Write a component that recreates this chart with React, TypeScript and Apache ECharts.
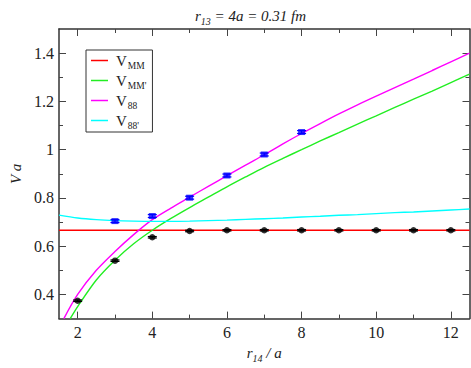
import React, { useEffect, useRef } from "react";
import * as echarts from "echarts";

// ---- data ----
const xMM = [1.5, 12.5];
const yMM = [0.666, 0.666];

const xMMp = [1.8, 2, 2.5, 3, 3.5, 4, 4.5, 5, 5.5, 6, 6.5, 7, 7.5, 8, 8.5, 9, 9.5, 10, 10.5, 11, 11.5, 12, 12.5];
const yMMp = [0.3, 0.35, 0.46, 0.542, 0.61, 0.666, 0.715, 0.76, 0.803, 0.846, 0.887, 0.927, 0.964, 1.0, 1.036, 1.071, 1.106, 1.14, 1.175, 1.209, 1.243, 1.278, 1.313];

const x88 = [1.63, 2, 2.5, 3, 3.5, 4, 4.5, 5, 5.5, 6, 6.5, 7, 7.5, 8, 8.5, 9, 9.5, 10, 10.5, 11, 11.5, 12, 12.5];
const y88 = [0.3, 0.4, 0.5, 0.578, 0.648, 0.71, 0.758, 0.803, 0.848, 0.892, 0.936, 0.979, 1.024, 1.067, 1.108, 1.148, 1.186, 1.222, 1.257, 1.292, 1.328, 1.364, 1.4];

const x88p = [1.5, 2, 2.5, 3, 3.5, 4, 4.5, 5, 5.5, 6, 6.5, 7, 7.5, 8, 8.5, 9, 9.5, 10, 10.5, 11, 11.5, 12, 12.5];
const y88p = [0.729, 0.717, 0.71, 0.706, 0.704, 0.703, 0.703, 0.704, 0.706, 0.708, 0.711, 0.714, 0.717, 0.721, 0.724, 0.728, 0.731, 0.735, 0.739, 0.742, 0.746, 0.75, 0.754];

const xBlack = [2, 3, 4, 5, 6, 7, 8, 9, 10, 11, 12];
const yBlack = [0.374, 0.54, 0.637, 0.663, 0.666, 0.666, 0.666, 0.666, 0.666, 0.666, 0.666];
const eBlack = [0.003, 0.003, 0.003, 0.003, 0.003, 0.003, 0.003, 0.003, 0.003, 0.003, 0.003];

const xBlue = [3, 4, 5, 6, 7, 8];
const yBlue = [0.704, 0.725, 0.801, 0.893, 0.98, 1.073];
const eBlue = [0.006, 0.006, 0.006, 0.006, 0.006, 0.006];

const xMajor = [2, 4, 6, 8, 10, 12];
const xMinor = [3, 5, 7, 9, 11];
const yMajor = [0.4, 0.6, 0.8, 1.0, 1.2, 1.4];
const yMinor = [0.5, 0.7, 0.9, 1.1, 1.3];

const seriesNames = ["VMM", "VMM'", "V88", "V88'"];
const legendSubs: Record<string, string> = { VMM: "MM", "VMM'": "MM'", V88: "88", "V88'": "88'" };
const colors = ["#ff0000", "#22ee22", "#ff00ff", "#00ffff"];

const FONT = "'Liberation Serif', 'Times New Roman', serif";
const X_MIN = 1.5, X_MAX = 12.5, Y_MIN = 0.3, Y_MAX = 1.5;

const zip = (xs: number[], ys: number[]) => xs.map((x, i) => [x, ys[i]]);

function errorBars(xs: number[], ys: number[], es: number[], color: string) {
  return {
    type: "custom",
    data: xs.map((x, i) => [x, ys[i], es[i]]),
    z: 4,
    renderItem: (params: any, api: any) => {
      const x = api.value(0), y = api.value(1), e = api.value(2);
      const lo = api.coord([x, y - e]);
      const hi = api.coord([x, y + e]);
      const w = 4.5;
      const st = { stroke: color, lineWidth: 1.2 };
      return {
        type: "group",
        children: [
          { type: "line", shape: { x1: lo[0], y1: lo[1], x2: hi[0], y2: hi[1] }, style: st },
          { type: "line", shape: { x1: lo[0] - w, y1: lo[1], x2: lo[0] + w, y2: lo[1] }, style: st },
          { type: "line", shape: { x1: hi[0] - w, y1: hi[1], x2: hi[0] + w, y2: hi[1] }, style: st },
        ],
      };
    },
  };
}

const axisLineStyle = { color: "#333", width: 1.5 };
const italic = { fontFamily: FONT, fontStyle: "italic", fontWeight: "normal", fontSize: 15, color: "#222" };
const italicSub = { fontFamily: FONT, fontStyle: "italic", fontWeight: "normal", fontSize: 10, color: "#222", padding: [10, 0, 0, 0] };

function xAxis(position: string, ticks: number[], len: number, labels: boolean, line: boolean, name?: boolean) {
  return {
    type: "value",
    position,
    min: X_MIN,
    max: X_MAX,
    splitLine: { show: false },
    axisLine: { show: line, onZero: false, lineStyle: axisLineStyle },
    axisTick: { show: true, inside: true, length: len, customValues: ticks, lineStyle: { color: "#444", width: 1 } },
    axisLabel: labels
      ? { show: true, customValues: ticks, fontFamily: FONT, fontSize: 16, color: "#222", margin: 6 }
      : { show: false },
    ...(name
      ? {
          name: "{i|r}{s|14}{i| / a}",
          nameLocation: "middle",
          nameGap: 19,
          nameTextStyle: { fontFamily: FONT, rich: { i: italic, s: italicSub } },
        }
      : {}),
  };
}

function yAxis(position: string, ticks: number[], len: number, labels: boolean, line: boolean, name?: boolean) {
  return {
    type: "value",
    position,
    min: Y_MIN,
    max: Y_MAX,
    splitLine: { show: false },
    axisLine: { show: line, onZero: false, lineStyle: axisLineStyle },
    axisTick: { show: true, inside: true, length: len, customValues: ticks, lineStyle: { color: "#444", width: 1 } },
    axisLabel: labels
      ? {
          show: true,
          customValues: ticks,
          fontFamily: FONT,
          fontSize: 16,
          color: "#222",
          margin: 5,
          formatter: (v: number) => String(parseFloat(v.toFixed(2))),
        }
      : { show: false },
    ...(name
      ? {
          name: "V a",
          nameLocation: "middle",
          nameGap: 36,
          nameRotate: 90,
          nameTextStyle: { fontFamily: FONT, fontStyle: "italic", fontSize: 15, color: "#222" },
        }
      : {}),
  };
}

export default function App() {
  const ref = useRef<HTMLDivElement>(null);
  useEffect(() => {
    if (!ref.current) return;
    const chart = echarts.init(ref.current, undefined, { renderer: "svg" });
    const curves = [zip(xMM, yMM), zip(xMMp, yMMp), zip(x88, y88), zip(x88p, y88p)];
    chart.setOption({
      animation: false,
      backgroundColor: "#fff",
      textStyle: { fontFamily: FONT },
      title: {
        text: "{i|r}{s|13}{i| = 4a = 0.31 fm}",
        left: 190,
        top: 1,
        textStyle: { fontFamily: FONT, fontWeight: "normal", rich: { i: italic, s: italicSub } },
      },
      legend: {
        orient: "vertical",
        left: 86,
        top: 50,
        data: seriesNames,
        icon: "rect",
        itemWidth: 17,
        itemHeight: 1.5,
        itemGap: 2,
        padding: [3, 6, 1, 5],
        borderColor: "#333",
        borderWidth: 1,
        backgroundColor: "#fff",
        formatter: (n: string) => `{v|V}{s|${legendSubs[n]}}`,
        textStyle: {
          fontFamily: FONT,
          padding: [0, 0, 0, 3],
          rich: {
            v: { fontFamily: FONT, fontSize: 15, color: "#222" },
            s: { fontFamily: FONT, fontSize: 9.5, color: "#222", padding: [11, 0, 0, 1] },
          },
        },
      },
      grid: { left: 43, right: 1.5, top: 29, bottom: 41, containLabel: false },
      xAxis: [
        xAxis("bottom", xMajor, 7, true, true, true),
        xAxis("top", xMajor, 7, false, true),
        xAxis("bottom", xMinor, 4, false, false),
        xAxis("top", xMinor, 4, false, false),
      ],
      yAxis: [
        yAxis("left", yMajor, 7, true, true, true),
        yAxis("right", yMajor, 7, false, true),
        yAxis("left", yMinor, 4, false, false),
        yAxis("right", yMinor, 4, false, false),
      ],
      series: [
        ...seriesNames.map((n, i) => ({
          type: "line",
          name: n,
          data: curves[i],
          showSymbol: false,
          smooth: 0.3,
          color: colors[i],
          lineStyle: { width: 1.4, color: colors[i] },
          z: 2,
        })),
        errorBars(xBlack, yBlack, eBlack, "#000"),
        errorBars(xBlue, yBlue, eBlue, "#0000ff"),
        {
          type: "scatter",
          name: "black",
          data: zip(xBlack, yBlack),
          symbol: "circle",
          symbolSize: 6.5,
          itemStyle: { color: "#000" },
          z: 5,
        },
        {
          type: "scatter",
          name: "blue",
          data: zip(xBlue, yBlue),
          symbol: "rect",
          symbolSize: [7, 6],
          itemStyle: { color: "#0000ff" },
          z: 5,
        },
      ],
    });
    return () => chart.dispose();
  }, []);
  return <div ref={ref} style={{ position: "fixed", left: 0, top: 0, width: 471, height: 368 }} />;
}
